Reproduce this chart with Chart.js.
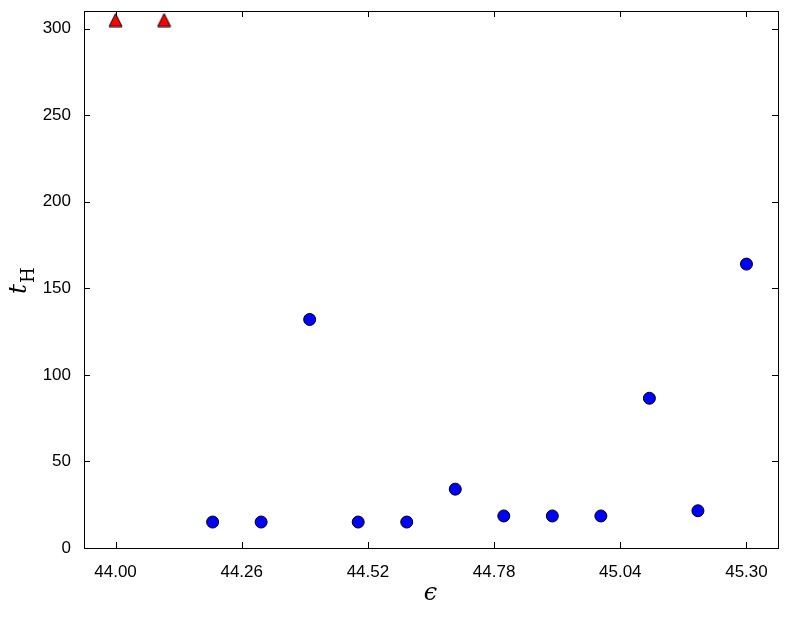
<!DOCTYPE html>
<html>
<head>
<meta charset="utf-8">
<script src="https://cdn.jsdelivr.net/npm/chart.js@4"></script>
<style>
  html, body { margin: 0; padding: 0; background: #fff; }
  #wrap { width: 789px; height: 619px; }
</style>
</head>
<body>
<div id="wrap"><canvas id="chart" width="789" height="619"></canvas></div>
<script>
// data
const triX = [44.0, 44.1];
const triY = [305, 305];
const dotX = [44.2, 44.3, 44.4, 44.5, 44.6, 44.7, 44.8, 44.9, 45.0, 45.1, 45.2, 45.3];
const dotY = [15, 15, 132, 15, 15, 34, 18.5, 18.5, 18.5, 86.5, 21.5, 164];
const xTicks = [44.00, 44.26, 44.52, 44.78, 45.04, 45.30];
const yTicks = [0, 50, 100, 150, 200, 250, 300];

const toPoints = (xs, ys) => xs.map((x, i) => ({ x: x, y: ys[i] }));

// matplotlib-style '^' marker, centred on its bounding box
const tri = document.createElement('canvas');
tri.width = 15; tri.height = 15;
(function () {
  const c = tri.getContext('2d');
  c.beginPath();
  c.moveTo(7.5, 1);
  c.lineTo(14, 14);
  c.lineTo(1, 14);
  c.closePath();
  c.fillStyle = '#ff0000';
  c.fill();
  c.strokeStyle = '#000';
  c.lineWidth = 1;
  c.stroke();
})();

// frame + inward ticks on all four sides, plus the axis labels
const framePlugin = {
  id: 'frame',
  afterDraw(chart) {
    const ctx = chart.ctx;
    const a = chart.chartArea;
    const xs = chart.scales.x, ys = chart.scales.y;
    const len = 6;
    ctx.save();
    ctx.strokeStyle = '#000';
    ctx.lineWidth = 1;
    ctx.beginPath();
    xTicks.forEach(v => {
      const px = Math.round(xs.getPixelForValue(v)) + 0.5;
      ctx.moveTo(px, a.bottom); ctx.lineTo(px, a.bottom - len);
      ctx.moveTo(px, a.top); ctx.lineTo(px, a.top + len);
    });
    yTicks.forEach(v => {
      const py = Math.round(ys.getPixelForValue(v)) + 0.5;
      ctx.moveTo(a.left, py); ctx.lineTo(a.left + len, py);
      ctx.moveTo(a.right, py); ctx.lineTo(a.right - len, py);
    });
    ctx.stroke();
    ctx.strokeRect(Math.round(a.left) + 0.5, Math.round(a.top) + 0.5,
                   Math.round(a.right - a.left), Math.round(a.bottom - a.top));

    // x label: epsilon
    ctx.fillStyle = '#000';
    ctx.textAlign = 'center';
    ctx.textBaseline = 'alphabetic';
    ctx.font = 'italic 24px "DejaVu Serif"';
    ctx.fillText('\u03F5', (a.left + a.right) / 2 - 0.5, 600);

    // y label: t_H, rotated
    ctx.translate(26, 294);
    ctx.rotate(-Math.PI / 2);
    ctx.textAlign = 'left';
    ctx.font = 'italic 25px "DejaVu Serif"';
    ctx.fillText('t', 0, 0);
    ctx.font = '18px "DejaVu Serif"';
    ctx.fillText('H', 11, 8);
    ctx.restore();
  }
};

new Chart(document.getElementById('chart'), {
  type: 'scatter',
  data: {
    datasets: [
      {
        data: toPoints(triX, triY),
        pointStyle: tri,
        pointRadius: 8,
        pointHoverRadius: 8
      },
      {
        data: toPoints(dotX, dotY),
        pointStyle: 'circle',
        pointRadius: 6,
        pointHoverRadius: 6,
        backgroundColor: '#0000ff',
        borderColor: '#000',
        borderWidth: 1
      }
    ]
  },
  options: {
    responsive: false,
    animation: false,
    devicePixelRatio: 1,
    layout: { padding: { top: 11, right: 11, left: 0, bottom: 0 } },
    plugins: { legend: { display: false }, tooltip: { enabled: false } },
    scales: {
      x: {
        type: 'linear',
        min: 43.935,
        max: 45.365,
        grid: { display: false },
        border: { display: false },
        afterBuildTicks: s => { s.ticks = xTicks.map(v => ({ value: v })); },
        afterFit: s => { s.height = 71; s.paddingLeft = 0; s.paddingRight = 0; },
        ticks: {
          color: '#000',
          padding: 6,
          maxRotation: 0,
          font: { family: '"Liberation Sans", Arial, sans-serif', size: 17 },
          callback: v => Number(v).toFixed(2)
        }
      },
      y: {
        type: 'linear',
        min: 0,
        max: 310.2,
        grid: { display: false },
        border: { display: false },
        afterBuildTicks: s => { s.ticks = yTicks.map(v => ({ value: v })); },
        afterFit: s => { s.width = 84; s.paddingTop = 0; s.paddingBottom = 0; },
        ticks: {
          color: '#000',
          padding: 5,
          font: { family: '"Liberation Sans", Arial, sans-serif', size: 17 },
          callback: v => String(v)
        }
      }
    }
  },
  plugins: [framePlugin]
});
</script>
</body>
</html>
